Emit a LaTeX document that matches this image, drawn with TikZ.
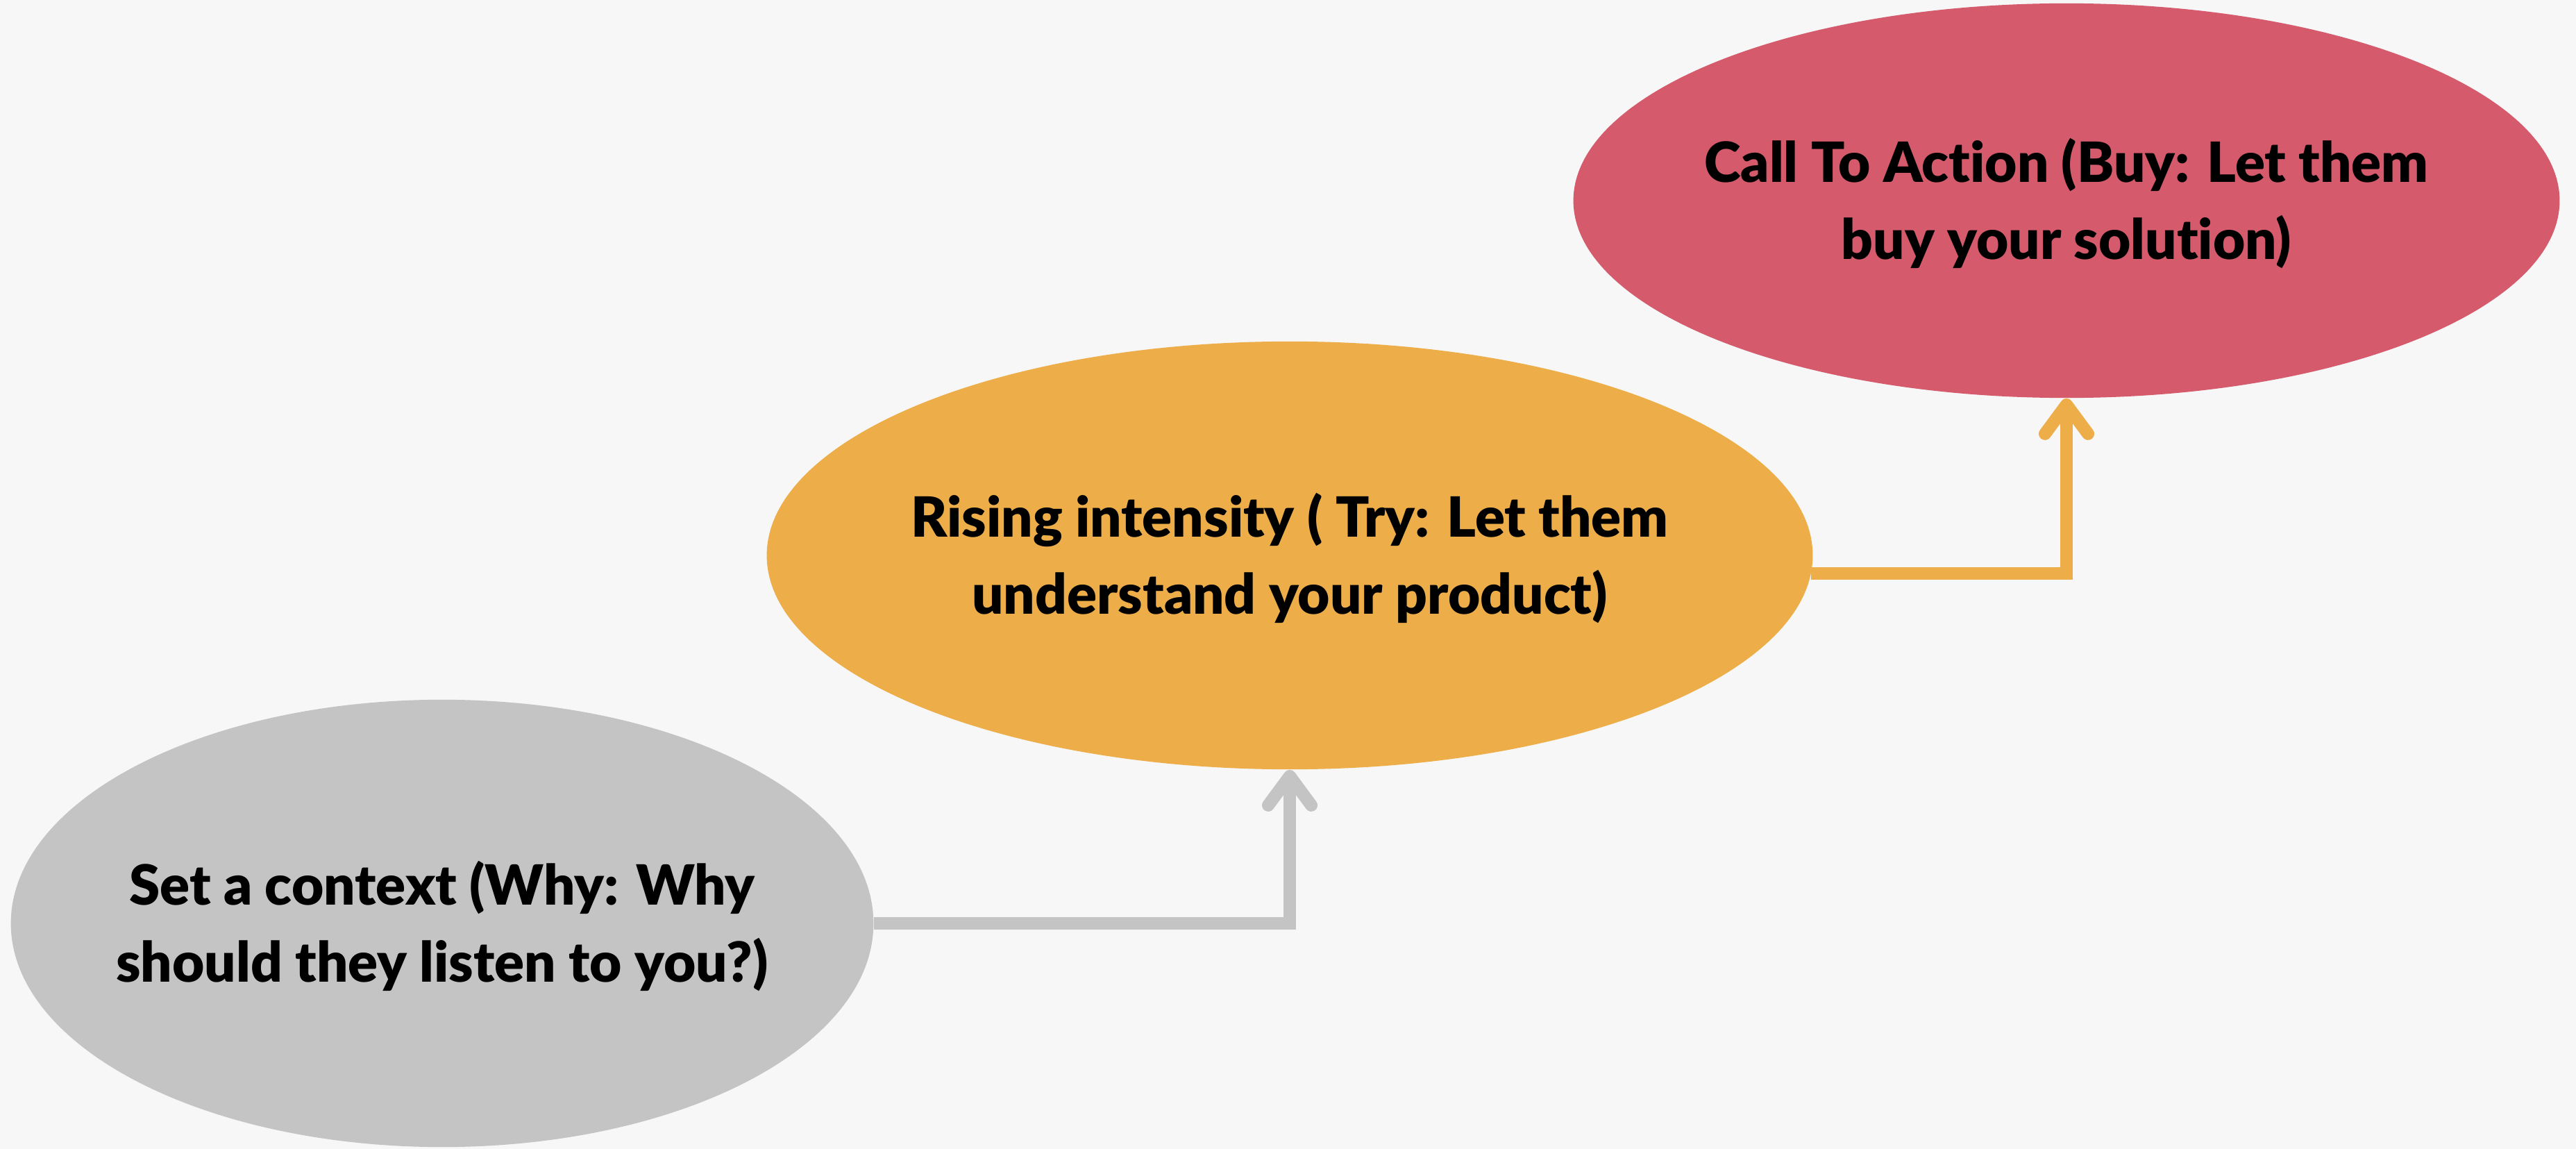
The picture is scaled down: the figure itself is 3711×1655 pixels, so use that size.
\documentclass[tikz,border=0pt]{standalone}
\usepackage{fontspec}
\setmainfont{Lato}[BoldFont={Lato Black}, Ligatures={NoCommon}]
\usetikzlibrary{shapes.geometric,arrows.meta,calc}
\definecolor{bg}{HTML}{F7F7F7}
\definecolor{grayfill}{HTML}{C4C4C4}
\definecolor{orangefill}{HTML}{EDAE4A}
\definecolor{redfill}{HTML}{D45A6C}
\tikzset{
  blob/.style={ellipse, inner sep=0pt, draw=none},
  caption/.style={inner sep=0pt, align=center, text=black,
    font=\fontsize{22.7pt}{31.3pt}\selectfont\bfseries},
  link/.style={line width=0.18cm, line cap=butt, line join=miter,
    -{Straight Barb[length=0.42cm, width=0.62cm, round]}}
}
\begin{document}
\begin{tikzpicture}[x=0.01cm, y=-0.01cm]
\fill[bg] (0,0) rectangle (3711,1655);
\useasboundingbox (0,0) rectangle (3711,1655);
\node[blob, fill=grayfill, minimum width=12.42cm, minimum height=6.44cm] (ctx) at (637,1330) {};
\node[blob, fill=orangefill, minimum width=15.06cm, minimum height=6.16cm] (rise) at (1858,800) {};
\node[blob, fill=redfill, minimum width=14.20cm, minimum height=5.68cm] (cta) at (2977,289) {};
\node[caption] (ctxtext) at ([yshift=-0.04cm]ctx.center) {Set a context (Why: Why\\should they listen to you?)};
\node[caption] (risetext) at ([yshift=-0.04cm]rise.center) {Rising intensity ( Try: Let them\\understand your product)};
\node[caption] (ctatext) at ([yshift=-0.04cm]cta.center) {Call To Action (Buy: Let them\\buy your solution)};
\coordinate (risestart) at ($(rise.east)+(-3,26)$);
\draw[link, draw=grayfill] (ctx.east) -| (rise.south);
\draw[link, draw=orangefill] (risestart) -| (cta.south);
\end{tikzpicture}
\end{document}
